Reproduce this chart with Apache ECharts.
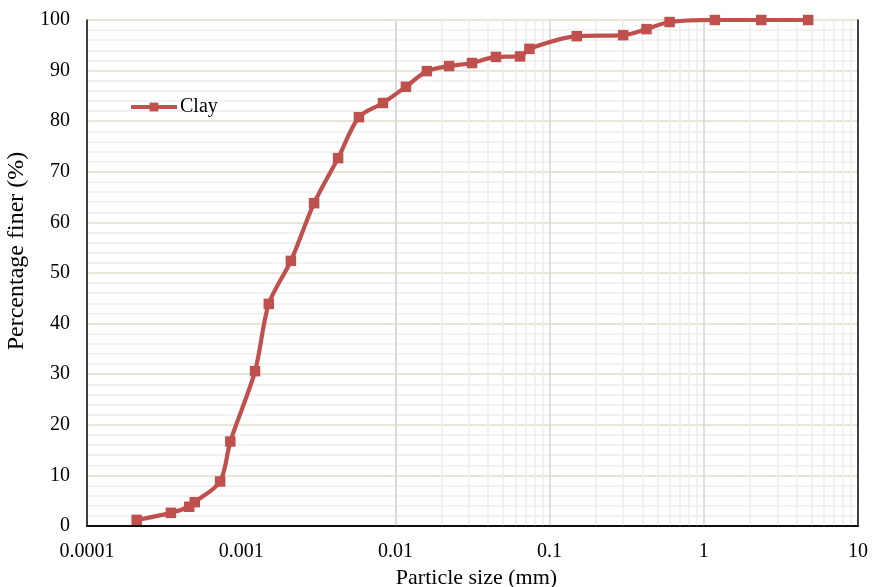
<!DOCTYPE html>
<html>
<head>
<meta charset="utf-8">
<script src="https://cdn.jsdelivr.net/npm/echarts@6/dist/echarts.min.js"></script>
<style>
  html, body { margin: 0; padding: 0; background: #fff; }
  #chart { width: 873px; height: 587px; }
</style>
</head>
<body>
<div id="chart"></div>
<script>
// Particle size distribution of the clay sample
const particleSize = [0.00021, 0.00035, 0.00046, 0.0005, 0.00073, 0.00085, 0.00123, 0.00151,
  0.0021, 0.00297, 0.00425, 0.0058, 0.0083, 0.0117, 0.016, 0.0223, 0.0314, 0.0449,
  0.0643, 0.074, 0.15, 0.3, 0.425, 0.6, 1.18, 2.36, 4.75];
const percentFiner = [1.2, 2.6, 3.8, 4.7, 8.8, 16.7, 30.6, 43.9,
  52.4, 63.8, 72.7, 80.8, 83.6, 86.8, 89.9, 90.9, 91.5, 92.7,
  92.8, 94.3, 96.8, 97.0, 98.2, 99.6, 100, 100, 100];
const seriesName = 'Clay';
const xTickLabels = ['0.0001', '0.001', '0.01', '0.1', '1', '10'];
const yTickLabels = ['0', '10', '20', '30', '40', '50', '60', '70', '80', '90', '100'];

const FONT = '"Liberation Serif", "Times New Roman", serif';
const RED = '#c0504d';

// Decade and sub-decade positions for the vertical log grid
const decades = [-4, -3, -2, -1, 0, 1];
const minorX = [];
decades.slice(0, -1).forEach(e => {
  for (let m = 2; m <= 9; m++) minorX.push(+(m * Math.pow(10, e)).toPrecision(3));
});
const majorX = decades.map(e => +Math.pow(10, e).toPrecision(3));

const gridLines = [
  ...minorX.map(v => ({ xAxis: v, lineStyle: { color: '#ececec', width: 1.5, type: 'solid' } })),
  ...majorX.slice(1, -1).map(v => ({ xAxis: v, lineStyle: { color: '#d4d4d4', width: 1.5, type: 'solid' } }))
];

const frameLine = { show: true, lineStyle: { color: '#000', width: 1.5 } };

const chart = echarts.init(document.getElementById('chart'), null, { renderer: 'canvas' });

chart.setOption({
  animation: false,
  backgroundColor: '#fff',
  textStyle: { fontFamily: FONT },
  grid: {
    left: 87, right: 15, top: 20, bottom: 61,
    containLabel: false, outerBoundsMode: 'none'
  },
  legend: {
    left: 124, top: 92,
    itemWidth: 46, itemHeight: 11,
    lineStyle: { width: 4 },
    textStyle: { fontFamily: FONT, fontSize: 20, color: '#000', padding: [0, 0, 0, -2] },
    data: [seriesName]
  },
  xAxis: [
    {
      type: 'log', logBase: 10, min: 0.0001, max: 10,
      name: 'Particle size (mm)', nameLocation: 'middle', nameGap: 40,
      nameTextStyle: { fontFamily: FONT, fontSize: 22, color: '#000', padding: [0, 0, 0, 8] },
      axisLine: frameLine,
      axisTick: { show: false },
      splitLine: { show: false },
      minorSplitLine: { show: false },
      axisLabel: {
        fontFamily: FONT, fontSize: 20, color: '#000', margin: 16,
        formatter: v => {
          const i = Math.round(Math.log10(v)) + 4;
          return xTickLabels[i] !== undefined ? xTickLabels[i] : '';
        }
      }
    },
    {
      // top edge of the plot frame
      type: 'log', logBase: 10, min: 0.0001, max: 10, position: 'top',
      axisLine: frameLine, axisTick: { show: false }, axisLabel: { show: false },
      splitLine: { show: false }, z: 10
    }
  ],
  yAxis: [
    {
      type: 'value', min: 0, max: 100, interval: 10,
      name: 'Percentage finer (%)', nameLocation: 'middle', nameGap: 56,
      nameTextStyle: { fontFamily: FONT, fontSize: 24, color: '#000', padding: [0, 0, 0, 44] },
      axisLine: frameLine,
      axisTick: { show: false },
      minorTick: { show: false, splitNumber: 5 },
      splitLine: { show: true, lineStyle: { color: '#e2ddcb', width: 1.5 } },
      minorSplitLine: { show: true, lineStyle: { color: '#eeeeee', width: 1.5 } },
      axisLabel: {
        fontFamily: FONT, fontSize: 20, color: '#000', margin: 17,
        formatter: v => yTickLabels[Math.round(v / 10)]
      }
    },
    {
      // right edge of the plot frame
      type: 'value', min: 0, max: 100, interval: 10, position: 'right',
      axisLine: frameLine, axisTick: { show: false }, axisLabel: { show: false },
      splitLine: { show: false }, z: 10
    }
  ],
  series: [
    {
      name: 'grid',
      type: 'line',
      data: [],
      silent: true,
      z: 1,
      markLine: {
        silent: true,
        symbol: ['none', 'none'],
        label: { show: false },
        animation: false,
        data: gridLines
      }
    },
    {
      name: seriesName,
      type: 'line',
      z: 5,
      smooth: 0.3,
      data: particleSize.map((x, i) => [x, percentFiner[i]]),
      symbol: 'rect',
      symbolSize: 10.5,
      showAllSymbol: true,
      itemStyle: { color: RED },
      lineStyle: { color: RED, width: 4.2 }
    }
  ]
});
</script>
</body>
</html>
